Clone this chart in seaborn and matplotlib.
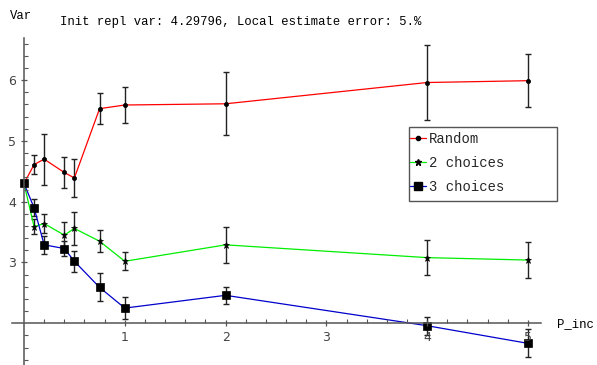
import numpy as np
import pandas as pd
import matplotlib
matplotlib.use("Agg")
import matplotlib.pyplot as plt
import seaborn as sns
from matplotlib.lines import Line2D
from matplotlib.patches import Rectangle

# ---- data ----
p_inc = [0, 0.1, 0.2, 0.4, 0.5, 0.75, 1, 2, 4, 5]
random_var = [4.30, 4.61, 4.70, 4.48, 4.39, 5.53, 5.59, 5.61, 5.96, 5.99]
random_err = [0.0, 0.15, 0.42, 0.26, 0.31, 0.26, 0.30, 0.52, 0.61, 0.44]
two_var = [4.30, 3.59, 3.64, 3.45, 3.56, 3.35, 3.02, 3.29, 3.08, 3.04]
two_err = [0.0, 0.12, 0.16, 0.22, 0.27, 0.18, 0.15, 0.30, 0.29, 0.29]
three_var = [4.30, 3.90, 3.29, 3.23, 3.02, 2.59, 2.25, 2.46, 1.96, 1.67]
three_err = [0.0, 0.14, 0.15, 0.13, 0.17, 0.23, 0.18, 0.145, 0.15, 0.23]
series_names = ["Random", "2 choices", "3 choices"]
x_ticks = [1, 2, 3, 4, 5]
y_ticks = [3, 4, 5, 6]
title = "Init repl var: 4.29796, Local estimate error: 5.%"

sns.set_style("white")
plt.rcParams['font.family'] = ['DejaVu Sans']

fig = plt.figure(figsize=(5.97, 3.65), dpi=100)
ax = fig.add_axes([0, 0, 1, 1])
ax.set_facecolor("white")

mono = "Liberation Mono"

styles = [
    dict(color="#ff0000", marker="o", ms=3.0),
    dict(color="#00ee00", marker="*", ms=4.5),
    dict(color="#0000cc", marker="s", ms=6.0),
]
vals = [random_var, two_var, three_var]
errs = [random_err, two_err, three_err]

for name, v, e, st in zip(series_names, vals, errs, styles):
    df = pd.DataFrame({"p": p_inc, "v": v})
    ax.errorbar(p_inc, v, yerr=e, fmt="none", ecolor="#222222",
                elinewidth=1.0, capsize=2.2, capthick=1.0, zorder=1.5)
    sns.lineplot(data=df, x="p", y="v", ax=ax, color=st["color"],
                 marker=st["marker"], markersize=st["ms"],
                 mfc="black", mec="black", mew=0.5, lw=0.9,
                 sort=False, zorder=2, legend=False)

ax.set_axisbelow(False)

# axes limits mapped to picture pixels
ax.set_xlim(-0.238, 5.685)
ax.set_ylim(1.314, 7.317)

for s in ["top", "right"]:
    ax.spines[s].set_visible(False)
ax.spines["left"].set_position(("data", 0))
ax.spines["bottom"].set_position(("data", 2))
ax.spines["left"].set_bounds(1.31, 6.69)
ax.spines["bottom"].set_bounds(-0.12, 5.13)
for s in ["left", "bottom"]:
    ax.spines[s].set_color("#555555")
    ax.spines[s].set_linewidth(1.1)
    ax.spines[s].set_zorder(2.5)

ax.set_xticks(x_ticks)
ax.set_yticks(y_ticks)
ax.set_xticks([round(0.2 * i, 2) for i in range(1, 26) if i % 5 != 0], minor=True)
ax.set_yticks([round(1.4 + 0.2 * i, 2) for i in range(0, 27)
               if abs((1.4 + 0.2 * i) - round(1.4 + 0.2 * i)) > 1e-6], minor=True)
ax.tick_params(axis="both", which="major", direction="inout", length=5, width=0.9,
               color="#555555", labelcolor="#444444", labelsize=9, pad=3)
ax.tick_params(axis="both", which="minor", direction="in", length=3, width=0.8,
               color="#555555")
ax.tick_params(axis="x", which="both", bottom=True, top=False)
ax.tick_params(axis="y", which="both", left=True, right=False)
ax.set_xlabel("")
ax.set_ylabel("")

# texts
fig.text(241 / 597, 1 - 22 / 365, title, family=mono, fontsize=8.8,
         ha="center", va="center", color="black")
fig.text(10 / 597, 1 - 16 / 365, "Var", family=mono, fontsize=8.8,
         ha="left", va="center", color="black")
fig.text(557 / 597, 1 - 324 / 365, "P_inc", family=mono, fontsize=8.8,
         ha="left", va="center", color="black")

# legend box (fixed size like the original)
ax.add_patch(Rectangle((409 / 597, 1 - 201 / 365), 148 / 597, 74 / 365,
                       transform=fig.transFigure, facecolor="white",
                       edgecolor="#555555", linewidth=1.0, zorder=4,
                       clip_on=False))
handles = [Line2D([], [], color=st["color"], marker=st["marker"], ms=st["ms"],
                  mfc="black", mec="black", lw=0.9) for st in styles]
leg = ax.legend(handles, series_names, loc="upper left",
                bbox_to_anchor=(409.5 / 597, 1 - 132 / 365),
                bbox_transform=fig.transFigure, borderaxespad=0,
                prop={"family": mono, "size": 10}, frameon=False,
                handlelength=1.2, handletextpad=0.2, labelspacing=0.72,
                borderpad=0)
leg.set_zorder(5)

fig.savefig("out.png", dpi=100)
